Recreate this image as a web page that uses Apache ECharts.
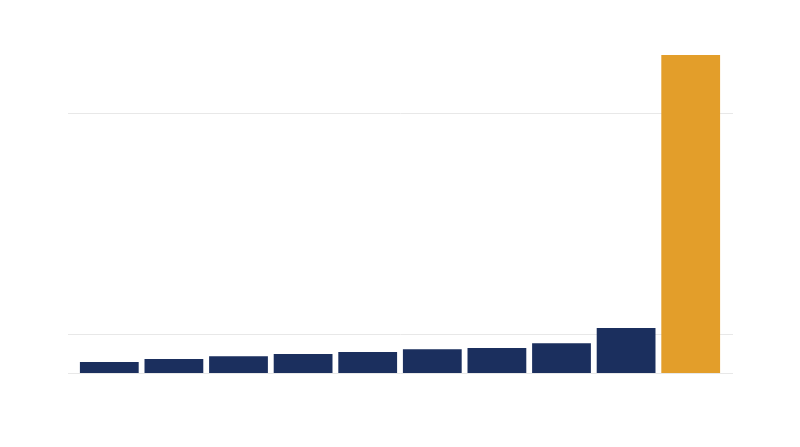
<!DOCTYPE html>
<html lang="en">
  <head>
    <meta charset="UTF-8" />
    <title>Chart</title>
    <script src="https://cdn.jsdelivr.net/npm/echarts@6/dist/echarts.min.js"></script>
    <style>
      html, body { margin: 0; padding: 0; background: #fff; }
      #main { width: 800px; height: 447px; }
    </style>
  </head>
  <body>
    <div id="main"></div>
    <script>
      // data (no labels shown in the original)
      var categories = ["1", "2", "3", "4", "5", "6", "7", "8", "9", "10"];
      var values = [0.42, 0.54, 0.64, 0.73, 0.81, 0.91, 0.96, 1.14, 1.73, 12.23];
      var gridValues = [0, 1.5, 10];
      var yMax = 14;

      var navy = "#1b2f5e";
      var orange = "#e39e2a";

      var myChart = echarts.init(document.getElementById("main"));

      var option = {
        animation: false,
        backgroundColor: "#fff",
        grid: [
          // bars
          { left: 77, right: 77, top: 9, bottom: 74 },
          // wider grid that only carries the light horizontal lines
          { left: 68, right: 67, top: 9, bottom: 74 },
        ],
        xAxis: [
          { gridIndex: 0, type: "category", data: categories, show: false },
          { gridIndex: 1, type: "category", data: categories, show: false },
        ],
        yAxis: [
          { gridIndex: 0, type: "value", min: 0, max: yMax, show: false },
          { gridIndex: 1, type: "value", min: 0, max: yMax, show: false },
        ],
        series: [
          {
            type: "bar",
            xAxisIndex: 1,
            yAxisIndex: 1,
            data: [],
            silent: true,
            z: 1,
            markLine: {
              z: 1,
              silent: true,
              symbol: "none",
              label: { show: false },
              lineStyle: { color: "#e8e8e8", type: "solid", width: 1 },
              data: gridValues.map(function (v) {
                return { yAxis: v };
              }),
            },
          },
          {
            type: "bar",
            xAxisIndex: 0,
            yAxisIndex: 0,
            barCategoryGap: "9%",
            z: 10,
            data: values.map(function (v, i) {
              return {
                value: v,
                itemStyle: { color: i === values.length - 1 ? orange : navy },
              };
            }),
          },
        ],
      };

      myChart.setOption(option);
    </script>
  </body>
</html>
